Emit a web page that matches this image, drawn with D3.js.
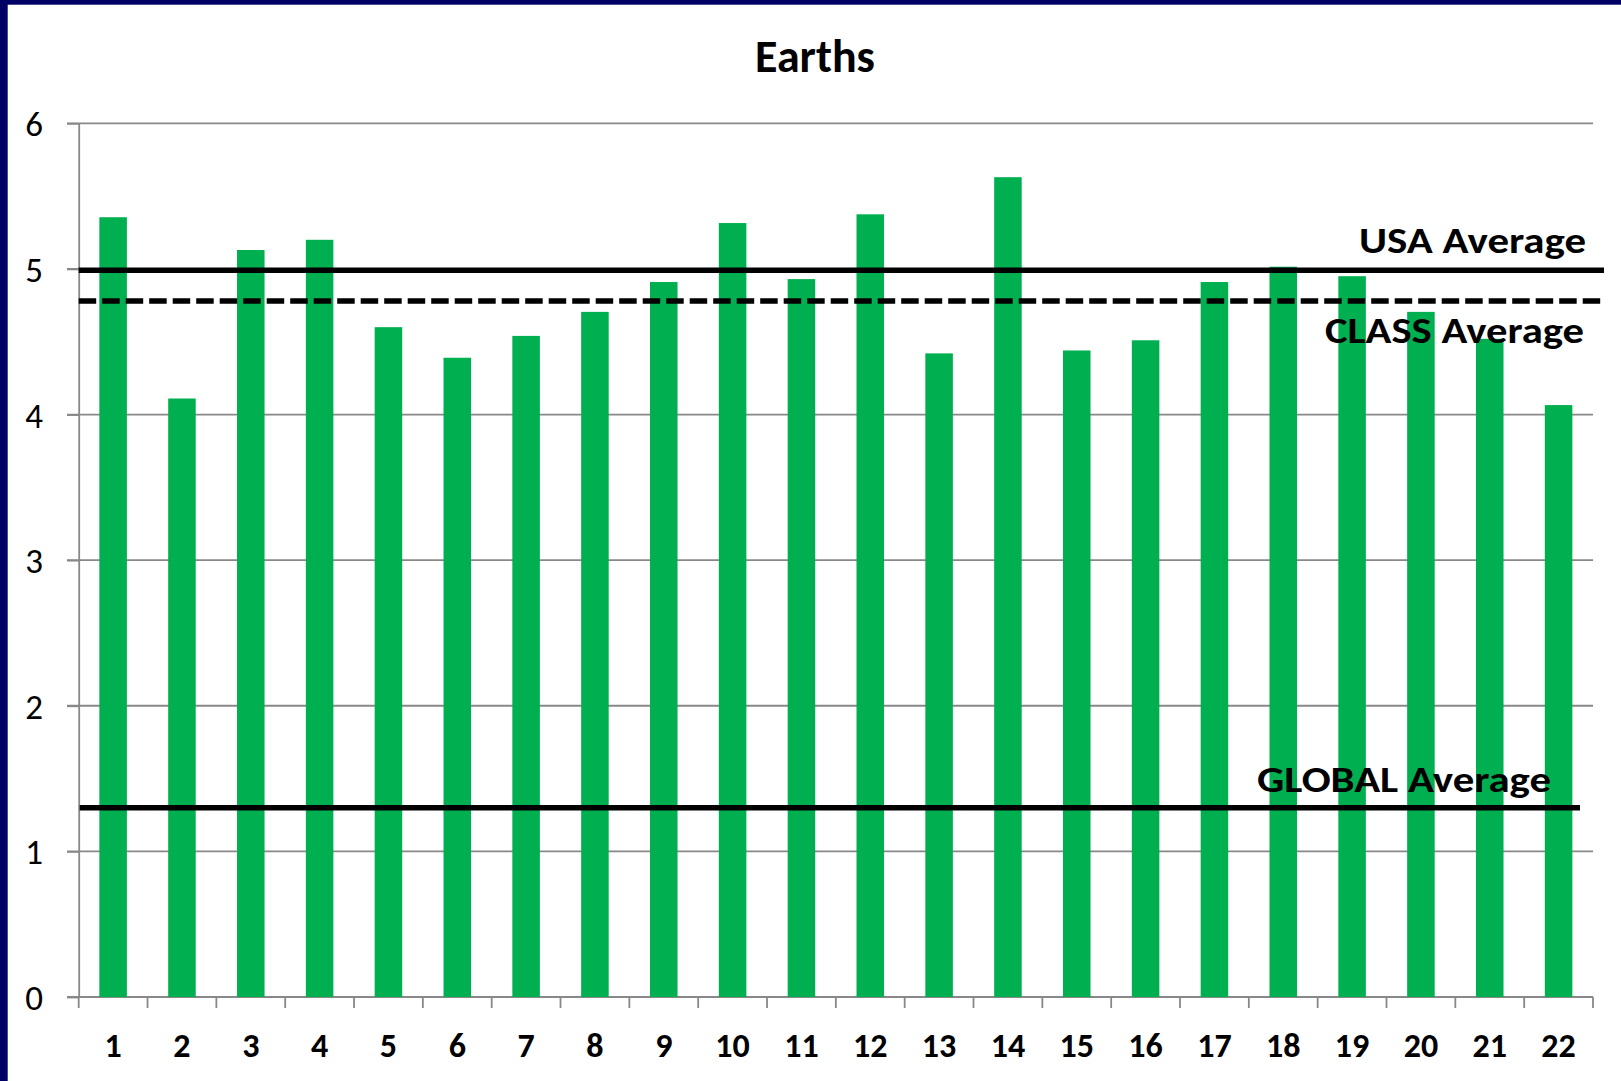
<!DOCTYPE html>
<html lang="en">
<head>
<meta charset="utf-8">
<title>Earths</title>
<script src="https://d3js.org/d3.v7.min.js"></script>
<style>
  body { margin: 0; background: #fff; }
  #chart { display: block; }
  text { font-family: Carlito, Calibri, Lato, sans-serif; fill: #000; }
</style>
</head>
<body>
<svg id="chart"></svg>
<script>
// ---- data ----
var categories = ["1", "2", "3", "4", "5", "6", "7", "8", "9", "10", "11",
                  "12", "13", "14", "15", "16", "17", "18", "19", "20", "21", "22"];
var earths = [5.355, 4.11, 5.13, 5.20, 4.60, 4.39, 4.54, 4.705, 4.91, 5.315, 4.93,
              5.375, 4.42, 5.63, 4.44, 4.51, 4.91, 5.015, 4.95, 4.705, 4.52, 4.065];
var yTicks = [0, 1, 2, 3, 4, 5, 6];
var averageNames = ["USA Average", "CLASS Average", "GLOBAL Average"];
var averageValues = [4.99, 4.78, 1.30];
var chartTitle = "Earths";

// ---- layout / styles ----
var width = 1621, height = 1081;
var plotLeft = 78.7, plotRight = 1593, plotTop = 123.3, plotBottom = 997;
var gridColor = "#888888";
var barColor = "#00b050";

// per average line: how far it runs past the plot, dash, label placement
var lineStyles = [
    { x1: 0, x2: 11, dash: null, labelRight: 1586, labelDy: -17, labelWidth: 227 },
    { x1: 0, x2: 11, dash: "17.5,6", labelRight: 1584, labelDy: 42, labelWidth: 259 },
    { x1: 1, x2: -13, dash: null, labelRight: 1551, labelDy: -15.6, labelWidth: 294 }
];

var svg = d3.select("#chart")
    .attr("width", width)
    .attr("height", height);

svg.append("rect")
    .attr("width", width).attr("height", height)
    .attr("fill", "#fff");

// navy frame on top and left
svg.append("rect").attr("x", 0).attr("y", 0).attr("width", width).attr("height", 4.7).attr("fill", "#000066");
svg.append("rect").attr("x", 0).attr("y", 0).attr("width", 7.7).attr("height", height).attr("fill", "#000066");

var xCat = d3.scaleBand()
    .domain(categories)
    .range([plotLeft, plotRight])
    .padding(0);

var xBar = d3.scaleBand()
    .domain(categories)
    .range([plotLeft, plotRight])
    .paddingInner(0.6)
    .paddingOuter(0.3);

var y = d3.scaleLinear()
    .domain([0, 6])
    .range([plotBottom, plotTop]);

// gridlines
svg.append("g")
    .selectAll("line")
    .data(yTicks)
    .enter()
    .append("line")
    .attr("x1", plotLeft - 11.7)
    .attr("x2", plotRight)
    .attr("y1", function(d) { return y(d); })
    .attr("y2", function(d) { return y(d); })
    .attr("stroke", gridColor)
    .attr("stroke-width", 1.8);

// y axis
var yAxis = svg.append("g")
    .attr("transform", "translate(" + plotLeft + ",0)")
    .call(d3.axisLeft(y).tickValues(yTicks).tickFormat(d3.format("d"))
        .tickSize(11.7).tickSizeOuter(0).tickPadding(24));
yAxis.attr("font-family", null).attr("font-size", null);
yAxis.select(".domain").attr("stroke", gridColor).attr("stroke-width", 1.8);
yAxis.selectAll(".tick line").attr("stroke", gridColor).attr("stroke-width", 1.8);
yAxis.selectAll("text")
    .style("font-size", "35px")
    .attr("dy", "0.36em");

// bars
svg.append("g")
    .selectAll("rect")
    .data(earths)
    .enter()
    .append("rect")
    .attr("x", function(d, i) { return xBar(categories[i]); })
    .attr("y", function(d) { return y(d); })
    .attr("width", xBar.bandwidth())
    .attr("height", function(d) { return y(0) - y(d); })
    .attr("fill", barColor);

// x axis labels
var xAxis = svg.append("g")
    .attr("transform", "translate(0," + plotBottom + ")")
    .call(d3.axisBottom(xCat).tickSize(0).tickSizeOuter(0).tickPadding(60));
xAxis.attr("font-family", null).attr("font-size", null);
xAxis.select(".domain").remove();
xAxis.selectAll("text")
    .style("font-size", "34px")
    .style("font-weight", "bold")
    .attr("dy", "0");

// tick marks at category boundaries
var boundaries = categories.map(function(c) { return xCat(c); }).concat([plotRight]);
svg.append("g")
    .selectAll("line")
    .data(boundaries)
    .enter()
    .append("line")
    .attr("x1", function(d) { return d; })
    .attr("x2", function(d) { return d; })
    .attr("y1", plotBottom)
    .attr("y2", plotBottom + 11)
    .attr("stroke", gridColor)
    .attr("stroke-width", 1.8);

// average lines
var avg = svg.append("g");
avg.selectAll("line")
    .data(averageValues)
    .enter()
    .append("line")
    .attr("x1", function(d, i) { return plotLeft + lineStyles[i].x1; })
    .attr("x2", function(d, i) { return plotRight + lineStyles[i].x2; })
    .attr("y1", function(d) { return y(d); })
    .attr("y2", function(d) { return y(d); })
    .attr("stroke", "#000")
    .attr("stroke-width", 5.5)
    .attr("stroke-dasharray", function(d, i) { return lineStyles[i].dash; });

avg.selectAll("text")
    .data(averageValues)
    .enter()
    .append("text")
    .attr("x", function(d, i) { return lineStyles[i].labelRight; })
    .attr("y", function(d, i) { return y(d) + lineStyles[i].labelDy; })
    .attr("text-anchor", "end")
    .attr("textLength", function(d, i) { return lineStyles[i].labelWidth; })
    .attr("lengthAdjust", "spacingAndGlyphs")
    .style("font-size", "36px")
    .style("font-weight", "bold")
    .text(function(d, i) { return averageNames[i]; });

// title
svg.append("text")
    .attr("x", 815)
    .attr("y", 71.7)
    .attr("text-anchor", "middle")
    .style("font-size", "46px")
    .style("font-weight", "bold")
    .text(chartTitle);
</script>
</body>
</html>
